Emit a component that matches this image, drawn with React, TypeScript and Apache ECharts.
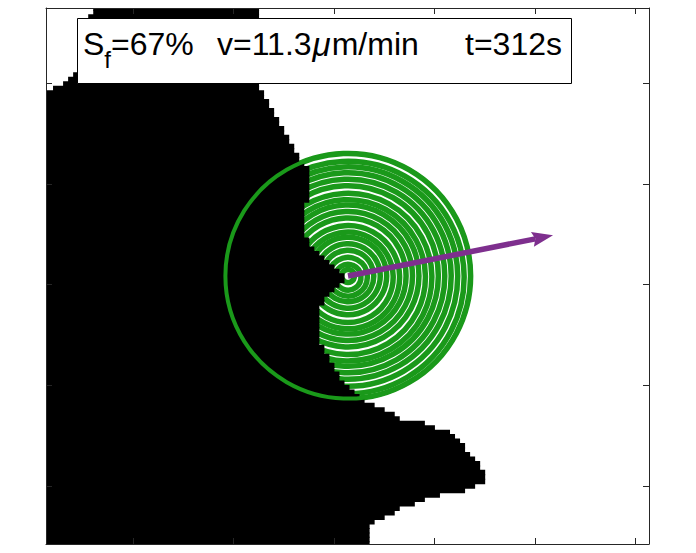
import React, { useEffect, useRef } from 'react';
import * as echarts from 'echarts';

// ---- axes (image pixel coordinates: columns / rows) ----
const X_MIN = -0.4;
const X_MAX = 119.6;
const Y_MIN = -0.4;
const Y_MAX = 119.6;
const xTickValues = [16.9, 36.9, 56.9, 76.9, 96.9, 116.9];
const yTickValues = [16.4, 38.95, 61.5, 84.05, 106.6];

// ---- binary image: black span per row (first column, end column) ----
const rowIndex = [
  -1, 0, 1, 2, 3, 4, 5, 6, 7, 8, 9, 10, 11, 12, 13, 14, 15, 16, 17, 18, 19,
  20, 21, 22, 23, 24, 25, 26, 27, 28, 29, 30, 31, 32, 33, 34, 35, 36, 37, 38, 39,
  40, 41, 42, 43, 44, 45, 46, 47, 48, 49, 50, 51, 52, 53, 54, 55, 56, 57, 58, 59,
  60, 61, 62, 63, 64, 65, 66, 67, 68, 69, 70, 71, 72, 73, 74, 75, 76, 77, 78, 79,
  80, 81, 82, 83, 84, 85, 86, 87, 88, 89, 90, 91, 92, 93, 94, 95, 96, 97, 98, 99,
  100, 101, 102, 103, 104, 105, 106, 107, 108, 109, 110, 111, 112, 113, 114, 115, 116, 117, 118, 119,
];
const rowLeft = [
  9, 9, 8, 8, 8, 8, 7, 7, 7, 7, 7, 7, 6, 6, 6, 5, 4, 3, 1, -1, -1,
  -1, -1, -1, -1, -1, -1, -1, -1, -1, -1, -1, -1, -1, -1, -1, -1, -1, -1, -1, -1,
  -1, -1, -1, -1, -1, -1, -1, -1, -1, -1, -1, -1, -1, -1, -1, -1, -1, -1, -1, -1,
  -1, -1, -1, -1, -1, -1, -1, -1, -1, -1, -1, -1, -1, -1, -1, -1, -1, -1, -1, -1,
  -1, -1, -1, -1, -1, -1, -1, -1, -1, -1, -1, -1, -1, -1, -1, -1, -1, -1, -1, -1,
  -1, -1, -1, -1, -1, -1, -1, -1, -1, -1, -1, -1, -1, -1, -1, -1, -1, -1, -1, -1,
];
const rowRight = [
  42, 42, 42, 42, 42, 42, 42, 42, 42, 42, 42, 42, 42, 42, 42, 42, 42, 42, 42, 43, 43,
  44, 44, 45, 45, 46, 46, 47, 47, 48, 48, 49, 49, 50, 50, 51, 52, 52, 52, 52, 52,
  52, 52, 52, 51, 51, 51, 51, 51, 51, 51, 51, 52, 52, 53, 54, 55, 56, 57, 58, 59,
  59, 58, 57, 56, 55, 55, 54, 54, 54, 54, 54, 54, 54, 54, 54, 55, 55, 56, 56, 57,
  57, 58, 58, 59, 60, 61, 62, 63, 65, 67, 69, 70, 75, 77, 80, 81, 82, 83, 83, 84,
  85, 86, 86, 87, 87, 87, 85, 83, 78, 75, 73, 70, 69, 67, 65, 64, 64, 64, 64, 64,
];

// ---- circle, rings, arrow ----
const circleCenter = [59.7, 59.6];
const circleRadius = 24.4;
const ringRadii = [
  1.28, 2.57, 3.85, 5.14, 6.42, 7.7, 8.99, 10.27, 11.56, 12.84,
  14.12, 15.41, 16.69, 17.98, 19.26, 20.54, 21.83, 23.11, 24.4,
];
const arrowStart = [59.7, 59.6];
const arrowEnd = [100.5, 50.5];

// ---- annotation ----
const labelParts = ['S', 'f', '=67%', 'v=11.3', 'μ', 'm/min', 't=312s'];

const GREEN = '#1a991a';
const PURPLE = '#7e2f8e';
const AXIS = '#262626';

export default function App() {
  const ref = useRef<HTMLDivElement>(null);
  useEffect(() => {
    document.body.style.margin = '0';
    const chart = echarts.init(ref.current!, undefined, { renderer: 'svg' });

    const imageData = rowIndex.map((r, i) => [r, rowLeft[i], rowRight[i]]);
    const ringData = ringRadii.map((r) => [circleCenter[0], circleCenter[1], r]);

    const font = (size: number, italic = false) =>
      `${italic ? 'italic ' : ''}${size}px "Liberation Sans", Arial, sans-serif`;
    const ctx = document.createElement('canvas').getContext('2d')!;
    const measure = (t: string, f: string) => {
      ctx.font = f;
      return ctx.measureText(t).width;
    };

    const axisCommon = {
      type: 'value' as const,
      min: X_MIN,
      max: X_MAX,
      axisLine: { show: true, onZero: false, lineStyle: { color: AXIS, width: 1 } },
      axisTick: { show: true, inside: true, length: 6, lineStyle: { color: AXIS, width: 1 }, customValues: xTickValues },
      axisLabel: { show: false },
      splitLine: { show: false },
      z: 10,
    };
    const yAxisCommon = {
      type: 'value' as const,
      min: Y_MIN,
      max: Y_MAX,
      inverse: true,
      axisLine: { show: true, onZero: false, lineStyle: { color: AXIS, width: 1 } },
      axisTick: { show: true, inside: true, length: 6, lineStyle: { color: AXIS, width: 1 }, customValues: yTickValues },
      axisLabel: { show: false },
      splitLine: { show: false },
      z: 10,
    };

    // text layout
    const F = 32;
    const fonts = [font(F), font(24), font(F), font(F), font(F + 1, true), font(F), font(F)];
    const xs: number[] = [];
    const anchors: Record<number, number> = { 0: 83, 3: 217 };
    const gapAfter: Record<number, number> = { 3: 1, 4: 1 };
    let cur = 0;
    labelParts.forEach((t, i) => {
      if (anchors[i] !== undefined) cur = anchors[i];
      if (i === 6) cur = 562 - measure(t, fonts[i]);
      xs.push(cur);
      cur += measure(t, fonts[i]) + (gapAfter[i] || 0);
    });
    const textY = 44;

    const textEls = labelParts.map((t, i) => ({
      type: 'text',
      z: 101,
      x: xs[i],
      y: i === 1 ? textY + 15 : textY,
      style: {
        text: t,
        font: fonts[i],
        fill: '#000',
        align: 'left',
        verticalAlign: 'middle',
      },
    }));

    chart.setOption({
      animation: false,
      backgroundColor: '#fff',
      grid: { left: 46, top: 8, width: 603, height: 536, containLabel: false },
      xAxis: [
        { ...axisCommon, position: 'bottom' },
        { ...axisCommon, position: 'top' },
      ],
      yAxis: [
        { ...yAxisCommon, position: 'left' },
        { ...yAxisCommon, position: 'right' },
      ],
      series: [
        {
          type: 'custom',
          name: 'rings',
          z: 1,
          silent: true,
          data: ringData,
          renderItem: (params: any, api: any) => {
            const c = api.coord([api.value(0), api.value(1)]);
            const e = api.coord([api.value(0) + api.value(2), api.value(1)]);
            const rad = e[0] - c[0];
            return {
              type: 'circle',
              shape: { cx: c[0], cy: c[1], r: rad },
              style: { fill: 'none', stroke: GREEN, lineWidth: 5.5 },
            };
          },
        },
        {
          type: 'custom',
          name: 'image',
          z: 2,
          silent: true,
          data: imageData,
          renderItem: (params: any, api: any) => {
            const row = api.value(0);
            const l = api.value(1);
            const r = api.value(2);
            const p1 = api.coord([l, row]);
            const p2 = api.coord([r, row + 1]);
            const cs = params.coordSys;
            const shape = echarts.graphic.clipRectByRect(
              { x: p1[0], y: p1[1], width: p2[0] - p1[0], height: p2[1] - p1[1] + 1 },
              { x: cs.x, y: cs.y, width: cs.width, height: cs.height }
            );
            if (!shape) return null;
            return { type: 'rect', shape, style: { fill: '#000' } };
          },
        },
        {
          type: 'custom',
          name: 'outline',
          z: 3,
          silent: true,
          data: [[circleCenter[0], circleCenter[1], circleRadius]],
          renderItem: (params: any, api: any) => {
            const c = api.coord([api.value(0), api.value(1)]);
            const e = api.coord([api.value(0) + api.value(2), api.value(1)]);
            const rad = e[0] - c[0];
            return {
              type: 'circle',
              shape: { cx: c[0], cy: c[1], r: rad },
              style: { fill: 'none', stroke: GREEN, lineWidth: 4 },
            };
          },
        },
        {
          type: 'custom',
          name: 'arrow',
          z: 4,
          silent: true,
          data: [[arrowStart[0], arrowStart[1], arrowEnd[0], arrowEnd[1]]],
          renderItem: (params: any, api: any) => {
            const a = api.coord([api.value(0), api.value(1)]);
            const b = api.coord([api.value(2), api.value(3)]);
            const dx = b[0] - a[0];
            const dy = b[1] - a[1];
            const len = Math.sqrt(dx * dx + dy * dy);
            const ux = dx / len;
            const uy = dy / len;
            const px = -uy;
            const py = ux;
            const headLen = 21;
            const headHalf = 7.5;
            const base = [b[0] - ux * headLen, b[1] - uy * headLen];
            const notch = [b[0] - ux * (headLen - 3), b[1] - uy * (headLen - 3)];
            return {
              type: 'group',
              children: [
                {
                  type: 'line',
                  shape: { x1: a[0], y1: a[1], x2: notch[0], y2: notch[1] },
                  style: { stroke: PURPLE, lineWidth: 5.5 },
                },
                {
                  type: 'polygon',
                  shape: {
                    points: [
                      [b[0], b[1]],
                      [base[0] + px * headHalf, base[1] + py * headHalf],
                      [notch[0], notch[1]],
                      [base[0] - px * headHalf, base[1] - py * headHalf],
                    ],
                  },
                  style: { fill: PURPLE },
                },
              ],
            };
          },
        },
      ],
      graphic: [
        {
          type: 'rect',
          z: 100,
          shape: { x: 77.5, y: 18.5, width: 494, height: 65 },
          style: { fill: '#fff', stroke: '#000', lineWidth: 1 },
        },
        ...textEls,
      ],
    });
    return () => chart.dispose();
  }, []);
  return <div ref={ref} style={{ width: 696, height: 553 }} />;
}
